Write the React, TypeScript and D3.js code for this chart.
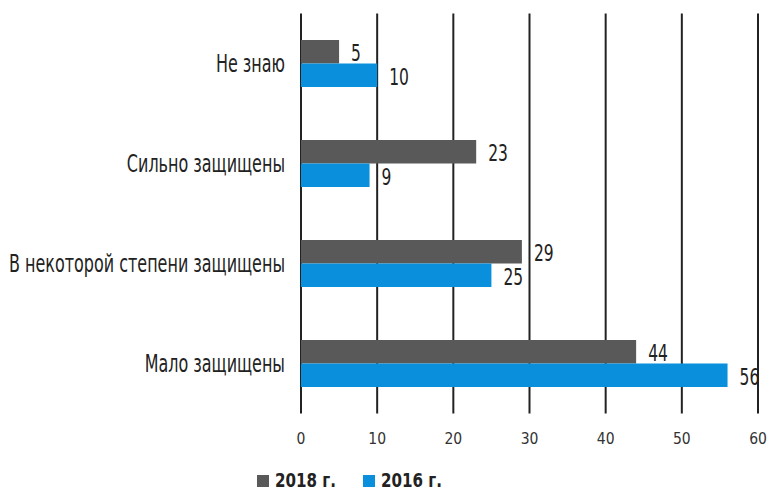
import React from "react";
import * as d3 from "d3";

const categories = ["Не знаю", "Сильно защищены", "В некоторой степени защищены", "Мало защищены"];
const seriesNames = ["2018 г.", "2016 г."];
const values2018 = [5, 23, 29, 44];
const values2016 = [10, 9, 25, 56];
const xTicks = [0, 10, 20, 30, 40, 50, 60];
const colors = ["#595959", "#0a8fdc"];

const FONT = "'DejaVu Sans Condensed', 'DejaVu Sans', sans-serif";

function NText({ x, y, sx, children, ...rest }: any) {
  return (
    <text transform={`translate(${x},${y}) scale(${sx},1)`} fontFamily={FONT} {...rest}>
      {children}
    </text>
  );
}

export default function App() {
  const W = 769, H = 490;
  const x = d3.scaleLinear().domain([0, 60]).range([301, 758]);
  const y = d3.scaleBand().domain(categories).range([13.5, 413.5]).paddingInner(0.53).paddingOuter(0.265);
  const inner = d3.scaleBand().domain(seriesNames).range([0, y.bandwidth()]);
  const series = [values2018, values2016];

  return (
    <svg width={W} height={H} style={{ position: "absolute", left: 0, top: 0, background: "#fff" }}>
      {xTicks.map((t) => (
        <g key={t}>
          <line x1={x(t)} x2={x(t)} y1={13.5} y2={413.5} stroke="#222" strokeWidth={2} />
          <NText x={x(t)} y={443.5} sx={1} textAnchor="middle" fontSize={15.5} fill="#333">{t}</NText>
        </g>
      ))}
      {categories.map((c, i) => (
        <g key={c}>
          <NText x={285} y={(y(c) as number) + y.bandwidth() / 2 + 8.5} sx={0.74} textAnchor="end" fontSize={24} fill="#222">{c}</NText>
          {series.map((vals, s) => {
            const yy = (y(c) as number) + (inner(seriesNames[s]) as number);
            return (
              <g key={s}>
                <rect x={x(0)} y={yy} width={x(vals[i]) - x(0)} height={inner.bandwidth()} fill={colors[s]} />
                <NText x={x(vals[i]) + 12} y={yy + inner.bandwidth() / 2 + 9.5} sx={0.75} fontSize={23} fill="#222">{vals[i]}</NText>
              </g>
            );
          })}
        </g>
      ))}
      {seriesNames.map((n, s) => (
        <g key={n}>
          <rect x={257 + s * 106} y={475} width={12} height={12} fill={colors[s]} />
          <NText x={275 + s * 106} y={487} sx={0.84} fontSize={20} fontWeight="bold" fill="#222">{n}</NText>
        </g>
      ))}
    </svg>
  );
}
